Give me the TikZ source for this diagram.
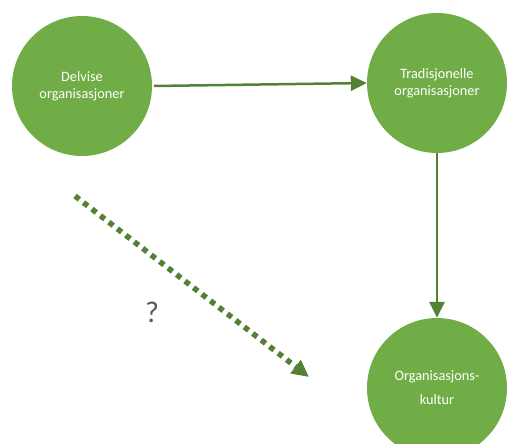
\documentclass[tikz,border=0pt]{standalone}
\usepackage{fontspec}
\setmainfont{Carlito}
\usetikzlibrary{arrows.meta}
\definecolor{cfill}{HTML}{70AD47}
\definecolor{carrow}{HTML}{548235}
\tikzset{
  bubble/.style={circle, fill=cfill, draw=none, minimum size=140pt, inner sep=0pt,
    text=white, align=center, font=\fontsize{14.3}{17}\selectfont},
  conn/.style={draw=carrow, line width=2.5pt, -{Triangle[length=16pt,width=15pt]}},
  dotconn/.style={draw=carrow, line width=5.5pt, dash pattern=on 5.5pt off 5.2pt,
    -{Triangle[length=17pt,width=16pt]}}
}
\begin{document}
\begin{tikzpicture}[x=1pt,y=-1pt]
\useasboundingbox (0,0) rectangle (507,444);
\node[bubble] (a) at (82,86) {Delvise\\organisasjoner};
\node[bubble] (b) at (437,83) {Tradisjonelle\\organisasjoner};
\node[bubble, font=\fontsize{14.3}{24}\selectfont] (c) at (437,388) {Organisasjons-\\kultur};
\draw[conn] (154,86) -- (b.west);
\draw[conn] (b.south) -- (c.north);
\coordinate (ds) at (75,196);
\coordinate (de) at (309,377);
\draw[dotconn] (ds) -- (de);
\node[font=\fontsize{30}{30}\selectfont\rmfamily, text=black!65] (q) at (152,312) {?};
\end{tikzpicture}
\end{document}
